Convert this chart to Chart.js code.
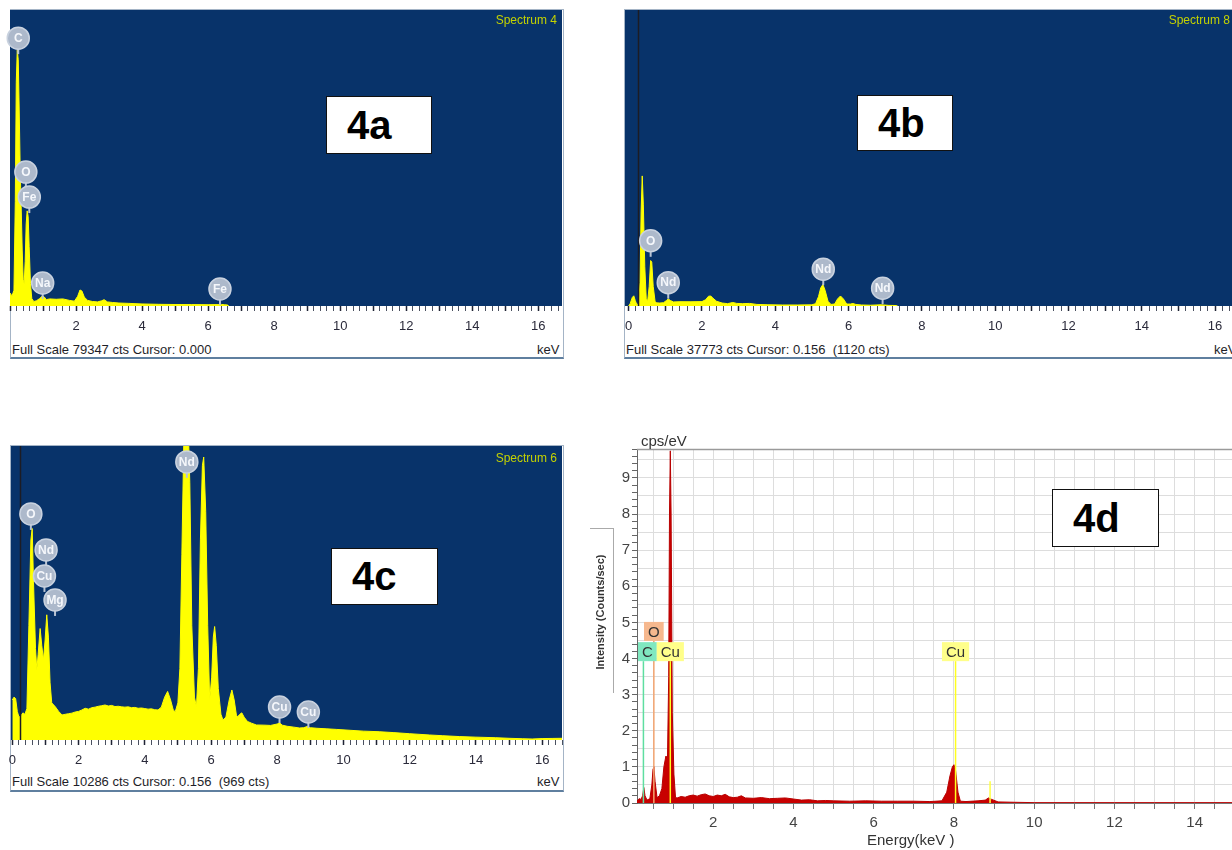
<!DOCTYPE html>
<html>
<head>
<meta charset="utf-8">
<script src="https://cdn.jsdelivr.net/npm/chart.js@4.4.1/dist/chart.umd.min.js"></script>
<style>
  body { margin:0; width:1232px; height:850px; overflow:hidden; background:#fff; position:relative;
         font-family:'Liberation Sans', Arial, sans-serif; }
  canvas { position:absolute; }
  .frame { position:absolute; box-sizing:border-box; background:#fff;
           border:1px solid #a4b4c6; border-bottom:2px solid #5f7f9f; }
  .foot { position:absolute; font-size:13px; line-height:15px; color:#1e1e28; white-space:nowrap; }
  .spec { position:absolute; font-size:12px; line-height:14px; color:#c4d200; white-space:nowrap; }
  .tag { position:absolute; box-sizing:border-box; background:#fff; border:1.5px solid #111;
         font-weight:bold; font-size:40px; color:#000; display:flex; align-items:center; padding-left:20px; }
  .txt { position:absolute; white-space:nowrap; color:#333; }
</style>
</head>
<body>

<!-- panel frames -->
<div class="frame" style="left:10px;top:9px;width:554px;height:350px"></div>
<div class="frame" style="left:624px;top:9px;width:620px;height:350px"></div>
<div class="frame" style="left:10px;top:445px;width:554px;height:347px"></div>

<canvas id="ca" width="576" height="330" style="left:-2px;top:10px"></canvas>
<canvas id="cb" width="636" height="330" style="left:613px;top:10px"></canvas>
<canvas id="cc" width="575" height="328" style="left:-1px;top:446px"></canvas>
<canvas id="cd" width="656" height="420" style="left:586px;top:430px"></canvas>

<div class="spec" style="right:675px;top:13px">Spectrum 4</div>
<div class="spec" style="right:2px;top:13px">Spectrum 8</div>
<div class="spec" style="right:675px;top:451px">Spectrum 6</div>

<div class="foot" style="left:12px;top:342px">Full Scale 79347 cts Cursor: 0.000</div>
<div class="foot" style="left:537px;top:342px">keV</div>
<div class="foot" style="left:626px;top:342px">Full Scale 37773 cts Cursor: 0.156&nbsp; (1120 cts)</div>
<div class="foot" style="left:1214px;top:342px">keV</div>
<div class="foot" style="left:12px;top:774px">Full Scale 10286 cts Cursor: 0.156&nbsp; (969 cts)</div>
<div class="foot" style="left:537px;top:774px">keV</div>

<div class="tag" style="left:326px;top:96px;width:106px;height:58px">4a</div>
<div class="tag" style="left:857px;top:95px;width:96px;height:56px">4b</div>
<div class="tag" style="left:331px;top:548px;width:107px;height:57px">4c</div>
<div class="tag" style="left:1052px;top:489px;width:107px;height:58px">4d</div>

<!-- panel d axis texts -->
<div class="txt" style="left:641px;top:432px;font-size:15px;line-height:17px">cps/eV</div>
<div class="txt" style="left:867px;top:831px;font-size:15px;line-height:17px">Energy(keV )</div>
<div class="txt" style="left:600px;top:612px;font-size:11px;font-weight:bold;transform:translate(-50%,-50%) rotate(-90deg)">Intensity (Counts/sec)</div>
<div style="position:absolute;left:590px;top:528px;width:23px;height:164px;border-top:1px solid #aaa;border-right:1px solid #aaa"></div>

<script>
Chart.defaults.font.family = "'Liberation Sans', Arial, sans-serif";

// ---- Spectrum 4 (4a) ----
const aKeV = [0, 0.06, 0.12, 0.16, 0.19, 0.22, 0.25, 0.28, 0.31, 0.34, 0.37, 0.4, 0.43, 0.46, 0.49, 0.52,
  0.55, 0.58, 0.62, 0.66, 0.72, 0.8, 0.9, 0.98, 1.04, 1.1, 1.2, 1.4, 1.6, 1.8, 1.95, 2.05, 2.12, 2.18,
  2.25, 2.35, 2.5, 2.65, 2.78, 2.85, 2.95, 3.1, 3.3, 3.6, 4.0, 4.5, 5.0, 5.5, 6.0, 6.3, 6.4, 6.5, 6.6, 6.62];
const aCts = [3500, 2700, 4200, 28000, 60000, 68600, 66000, 52000, 36000, 26000, 15000, 7000, 6000, 12000,
  22000, 25500, 24000, 16000, 6000, 2000, 1200, 1400, 2000, 2700, 2400, 1700, 1900, 1800, 1900, 1500, 1300,
  2600, 4300, 4000, 2400, 1500, 1200, 1100, 1400, 1700, 1100, 950, 800, 700, 550, 450, 400, 380, 350, 380,
  420, 350, 250, 0];
const aMarkKeV = [0.25, 0.48, 0.585, 0.99, 6.36];
const aMarkCts = [71800, 35900, 29200, 6160, 4560];
const aMarkName = ['C', 'O', 'Fe', 'Na', 'Fe'];

// ---- Spectrum 8 (4b) ----
const bKeV = [0, 0.04, 0.1, 0.14, 0.18, 0.22, 0.27, 0.31, 0.34, 0.37, 0.4, 0.44, 0.48, 0.52, 0.56, 0.6,
  0.63, 0.67, 0.72, 0.76, 0.85, 0.95, 1.03, 1.08, 1.14, 1.22, 1.4, 1.7, 2.0, 2.1, 2.18, 2.24, 2.3, 2.4,
  2.55, 2.7, 2.84, 2.95, 3.1, 3.3, 3.5, 3.8, 4.2, 4.6, 5.0, 5.1, 5.18, 5.24, 5.3, 5.36, 5.44, 5.52, 5.62,
  5.7, 5.78, 5.86, 5.95, 6.05, 6.12, 6.2, 6.35, 6.6, 6.9, 6.95, 7.1, 7.3, 7.32];
const bCts = [0, 300, 1100, 1300, 700, 200, 250, 3000, 12000, 16600, 13000, 5000, 900, 700, 2500, 5800,
  5600, 2500, 600, 400, 380, 420, 700, 900, 700, 520, 550, 540, 560, 800, 1250, 1280, 1000, 600, 380, 300,
  450, 330, 300, 330, 200, 160, 130, 130, 150, 300, 1200, 2300, 2750, 2000, 600, 200, 250, 900, 1280, 900,
  250, 250, 320, 200, 130, 100, 160, 140, 80, 60, 0];
const bMarkKeV = [0.6, 1.08, 5.31, 6.93];
const bMarkCts = [8320, 2980, 4700, 2270];
const bMarkName = ['O', 'Nd', 'Nd', 'Nd'];

// ---- Spectrum 6 (4c) ----
const cKeV = [0, 0.05, 0.1, 0.15, 0.2, 0.26, 0.32, 0.38, 0.44, 0.5, 0.56, 0.6, 0.64, 0.7, 0.74, 0.78, 0.84,
  0.89, 0.94, 0.99, 1.04, 1.09, 1.14, 1.19, 1.3, 1.4, 1.5, 1.6, 1.7, 1.8, 1.9, 2.0, 2.1, 2.2, 2.3, 2.4, 2.5,
  2.6, 2.7, 2.8, 2.9, 3.0, 3.1, 3.2, 3.3, 3.4, 3.5, 3.6, 3.7, 3.8, 3.9, 4.0, 4.1, 4.2, 4.3, 4.4, 4.5, 4.6,
  4.69, 4.78, 4.86, 4.92, 5.0, 5.06, 5.12, 5.18, 5.22, 5.3, 5.36, 5.42, 5.5, 5.56, 5.62, 5.68, 5.74, 5.78,
  5.84, 5.9, 5.96, 6.02, 6.07, 6.11, 6.16, 6.22, 6.3, 6.36, 6.45, 6.55, 6.63, 6.7, 6.77, 6.81, 6.87, 6.93,
  7.0, 7.1, 7.22, 7.37, 7.6, 7.8, 8.0, 8.07, 8.15, 8.3, 8.5, 8.67, 8.8, 8.9, 9.0, 9.2, 9.5, 9.8, 10.2, 10.6,
  11.08, 11.5, 12.0, 12.6, 13.0, 13.5, 14.0, 14.6, 15.0, 15.4, 15.7, 16.0, 16.3, 16.6];
const cCts = [1400, 1500, 1450, 1000, 800, 850, 950, 900, 1100, 4000, 7000, 7400, 5500, 3200, 2450, 3000,
  3900, 3300, 2800, 3500, 4380, 3600, 2000, 1300, 1160, 1000, 875, 900, 920, 940, 980, 1000, 1050, 1110,
  1080, 1130, 1150, 1180, 1200, 1225, 1190, 1210, 1170, 1180, 1160, 1150, 1160, 1130, 1140, 1110, 1120,
  1100, 1080, 1090, 1060, 1050, 1150, 1500, 1700, 1400, 1050, 990, 1300, 2500, 6500, 10500, 11500, 11500,
  9000, 4000, 1500, 1160, 2500, 7000, 9600, 9900, 8000, 4000, 1400, 2200, 3600, 3970, 3300, 1800, 900, 700,
  800, 1400, 1750, 1400, 850, 820, 900, 950, 800, 650, 590, 525, 520, 510, 560, 600, 520, 480, 450, 420,
  430, 470, 430, 410, 390, 370, 340, 310, 290, 260, 220, 175, 150, 120, 100, 80, 60, 45, 35, 50, 55, 60];
const cMarkKeV = [0.56, 1.02, 0.97, 1.29, 5.27, 8.07, 8.94];
const cMarkCts = [7910, 6650, 5740, 4900, 9730, 1155, 980];
const cMarkName = ['O', 'Nd', 'Cu', 'Mg', 'Nd', 'Cu', 'Cu'];

// ---- 4d: cps/eV vs energy ----
const dKeV = [0.1, 0.15, 0.2, 0.24, 0.27, 0.3, 0.35, 0.42, 0.47, 0.5, 0.52, 0.55, 0.6, 0.66, 0.72, 0.77,
  0.82, 0.86, 0.89, 0.91, 0.93, 0.95, 0.98, 1.02, 1.06, 1.1, 1.2, 1.3, 1.4, 1.5, 1.6, 1.7, 1.8, 1.9, 2.0,
  2.1, 2.2, 2.3, 2.4, 2.5, 2.6, 2.7, 2.8, 3.0, 3.2, 3.4, 3.6, 3.8, 4.0, 4.2, 4.4, 4.6, 4.8, 5.0, 5.4, 5.8,
  6.2, 6.6, 7.0, 7.4, 7.7, 7.82, 7.9, 7.96, 8.0, 8.04, 8.1, 8.16, 8.3, 8.6, 8.78, 8.86, 8.94, 9.1, 9.5, 10,
  11, 12, 13, 14, 14.93];
const dCps = [0.05, 0.12, 0.1, 0.2, 0.43, 0.2, 0.08, 0.12, 0.5, 0.95, 1.01, 0.6, 0.15, 0.2, 0.4, 1.0, 1.3,
  1.25, 3.5, 8.0, 9.75, 8.0, 2.5, 0.8, 0.15, 0.14, 0.18, 0.16, 0.2, 0.22, 0.19, 0.23, 0.25, 0.2, 0.18, 0.22,
  0.2, 0.24, 0.17, 0.15, 0.16, 0.2, 0.14, 0.13, 0.15, 0.12, 0.13, 0.14, 0.11, 0.08, 0.09, 0.06, 0.07, 0.06,
  0.05, 0.06, 0.05, 0.05, 0.05, 0.04, 0.06, 0.3, 0.75, 1.0, 1.06, 0.9, 0.3, 0.05, 0.04, 0.06, 0.08, 0.14,
  0.1, 0.03, 0.02, 0.01, 0.01, 0.01, 0.01, 0.01, 0.01];
const dMarkKeV = [0.26, 0.52, 0.93, 8.04];
const dMarkLevel = [4.19, 4.75, 4.19, 4.19];
const dMarkName = ['C', 'O', 'Cu', 'Cu'];
const dMarkFill = ['#80e8c0', '#f6b88e', '#ffff8a', '#ffff8a'];
const dMarkLine = ['#5edea0', '#f2a470', '#ffff20', '#ffff20'];
const dKbKeV = [8.9];
const dKbTop = [0.6];

const near = (v, step) => Math.abs(v - Math.round(v / step) * step) < 1e-6;

// blue plot background + cursor line
const specBg = {
  id: 'specBg',
  beforeDraw(chart) {
    const { ctx, chartArea: a } = chart;
    ctx.save();
    ctx.fillStyle = '#08336a';
    ctx.fillRect(a.left, a.top, a.right - a.left, a.bottom - a.top);
    ctx.restore();
  },
  afterDatasetsDraw(chart, args, opts) {
    if (opts.cursor == null) return;
    const { ctx, chartArea: a, scales: { x } } = chart;
    const px = Math.round(x.getPixelForValue(opts.cursor)) + 0.5;
    ctx.save();
    ctx.strokeStyle = '#1c1c24';
    ctx.lineWidth = 1.5;
    ctx.beginPath(); ctx.moveTo(px, a.top); ctx.lineTo(px, a.bottom); ctx.stroke();
    ctx.restore();
  }
};

// grey round element markers
const circleLabels = {
  id: 'circleLabels',
  afterDatasetsDraw(chart, args, opts) {
    const { ctx, scales: { x, y } } = chart;
    ctx.save();
    opts.keV.forEach((e, i) => {
      const px = x.getPixelForValue(e), py = y.getPixelForValue(opts.cts[i]);
      ctx.strokeStyle = '#b8c3d3'; ctx.lineWidth = 2;
      ctx.beginPath(); ctx.moveTo(px, py + 9); ctx.lineTo(px, py + 16); ctx.stroke();
      ctx.fillStyle = '#adb9cb';
      ctx.beginPath(); ctx.arc(px, py, 11, 0, Math.PI * 2); ctx.fill();
      ctx.strokeStyle = '#c9d2df'; ctx.lineWidth = 1.5; ctx.stroke();
      ctx.fillStyle = '#f5f7fb';
      ctx.font = 'bold 12px "Liberation Sans", Arial';
      ctx.textAlign = 'center'; ctx.textBaseline = 'middle';
      ctx.fillText(opts.names[i], px, py + 0.5);
    });
    ctx.restore();
  }
};

function edsChart(id, keV, cts, fullScale, xmin, xmax, showZero, marks, cursor) {
  return new Chart(document.getElementById(id), {
    type: 'line',
    data: {
      datasets: [{
        data: keV.map((e, i) => ({ x: e, y: cts[i] })),
        borderColor: '#ffff00', backgroundColor: '#ffff00', borderWidth: 1,
        fill: 'origin', pointRadius: 0, tension: 0
      }]
    },
    options: {
      responsive: false, animation: false, events: [],
      layout: { padding: { left: 12, right: 12, top: 0, bottom: 0 } },
      plugins: { legend: { display: false }, tooltip: { enabled: false },
                 specBg: { cursor: cursor }, circleLabels: marks },
      scales: {
        x: {
          type: 'linear', min: xmin, max: xmax,
          afterFit(s) { s.height = 34; },
          border: { display: false },
          grid: { drawOnChartArea: false, tickLength: 5,
                  tickColor: c => near(c.tick.value, 1) ? '#1e2233' : '#4a5060',
                  tickWidth: c => near(c.tick.value, 1) ? 1.5 : 1 },
          ticks: {
            stepSize: 0.2, autoSkip: false, maxRotation: 0, includeBounds: false, padding: 8,
            color: '#2a2a3a', font: { size: 13 },
            callback: v => (near(v, 2) && (v > 0.1 || (showZero && Math.abs(v) < 1e-6))) ? String(Math.round(v)) : ''
          }
        },
        y: { display: false, min: 0, max: fullScale }
      }
    },
    plugins: [specBg, circleLabels]
  });
}

edsChart('ca', aKeV, aCts, 79347, 0, 16.72, false,
  { keV: aMarkKeV, cts: aMarkCts, names: aMarkName }, null);
edsChart('cb', bKeV, bCts, 37773, -0.1, 16.6, true,
  { keV: bMarkKeV, cts: bMarkCts, names: bMarkName }, 0.26);
edsChart('cc', cKeV, cCts, 10286, -0.04, 16.6, true,
  { keV: cMarkKeV, cts: cMarkCts, names: cMarkName }, 0.23);

// 4d element lines and boxes
const eltMarks = {
  id: 'eltMarks',
  afterDatasetsDraw(chart) {
    const { ctx, chartArea: a, scales: { x, y } } = chart;
    ctx.save();
    ctx.strokeStyle = '#9a9a9a'; ctx.lineWidth = 1.5;
    ctx.beginPath(); ctx.moveTo(a.left, a.top + 0.5); ctx.lineTo(a.right, a.top + 0.5); ctx.stroke();

    dKbKeV.forEach((e, i) => {
      const px = x.getPixelForValue(e);
      ctx.strokeStyle = '#ffff40'; ctx.lineWidth = 1.5;
      ctx.beginPath(); ctx.moveTo(px, y.getPixelForValue(dKbTop[i])); ctx.lineTo(px, a.bottom); ctx.stroke();
    });

    ctx.font = '15px "Liberation Sans", Arial';
    const h = 19;
    const boxes = dMarkKeV.map((e, i) => {
      const px = x.getPixelForValue(e), cy = y.getPixelForValue(dMarkLevel[i]);
      const w = ctx.measureText(dMarkName[i]).width + 8;
      const bx = Math.max(a.left + 1, px - w / 2);
      ctx.strokeStyle = dMarkLine[i]; ctx.lineWidth = 1.5;
      ctx.beginPath(); ctx.moveTo(px, cy + h / 2); ctx.lineTo(px, a.bottom); ctx.stroke();
      return { bx, cy, w };
    });
    boxes.forEach((b, i) => {
      ctx.fillStyle = dMarkFill[i];
      ctx.fillRect(b.bx, b.cy - h / 2, b.w, h);
      ctx.fillStyle = '#333';
      ctx.textAlign = 'center'; ctx.textBaseline = 'middle';
      ctx.fillText(dMarkName[i], b.bx + b.w / 2, b.cy + 1);
    });
    ctx.restore();
  }
};

new Chart(document.getElementById('cd'), {
  type: 'line',
  data: {
    datasets: [{
      data: dKeV.map((e, i) => ({ x: e, y: dCps[i] })),
      borderColor: '#b80000', backgroundColor: '#c80000', borderWidth: 1,
      fill: 'origin', pointRadius: 0, tension: 0
    }]
  },
  options: {
    responsive: false, animation: false, events: [],
    layout: { padding: { left: 0, right: 10, top: 19, bottom: 0 } },
    plugins: { legend: { display: false }, tooltip: { enabled: false } },
    scales: {
      x: {
        type: 'linear', min: 0.1, max: 14.93,
        afterFit(s) { s.height = 47; },
        border: { color: '#777', width: 1 },
        grid: { color: '#dddddd', tickLength: 6, tickColor: '#777' },
        ticks: {
          stepSize: 0.5, autoSkip: false, maxRotation: 0, includeBounds: false, padding: 5,
          color: '#444', font: { size: 15 },
          callback: v => (near(v, 2) && v > 0.5) ? String(Math.round(v)) : ''
        }
      },
      y: {
        min: 0, max: 9.8,
        afterFit(s) { s.width = 51; },
        border: { color: '#666', width: 1 },
        grid: {
          color: c => near(c.tick.value, 0.5) ? '#dddddd' : 'rgba(0,0,0,0)',
          tickColor: c => near(c.tick.value, 0.2) ? '#666' : 'rgba(0,0,0,0)',
          tickLength: 5
        },
        ticks: {
          stepSize: 0.1, autoSkip: false, includeBounds: false, padding: 2,
          color: '#444', font: { size: 15 },
          callback: v => near(v, 1) ? String(Math.round(v)) : ''
        }
      }
    }
  },
  plugins: [eltMarks]
});
</script>
</body>
</html>
